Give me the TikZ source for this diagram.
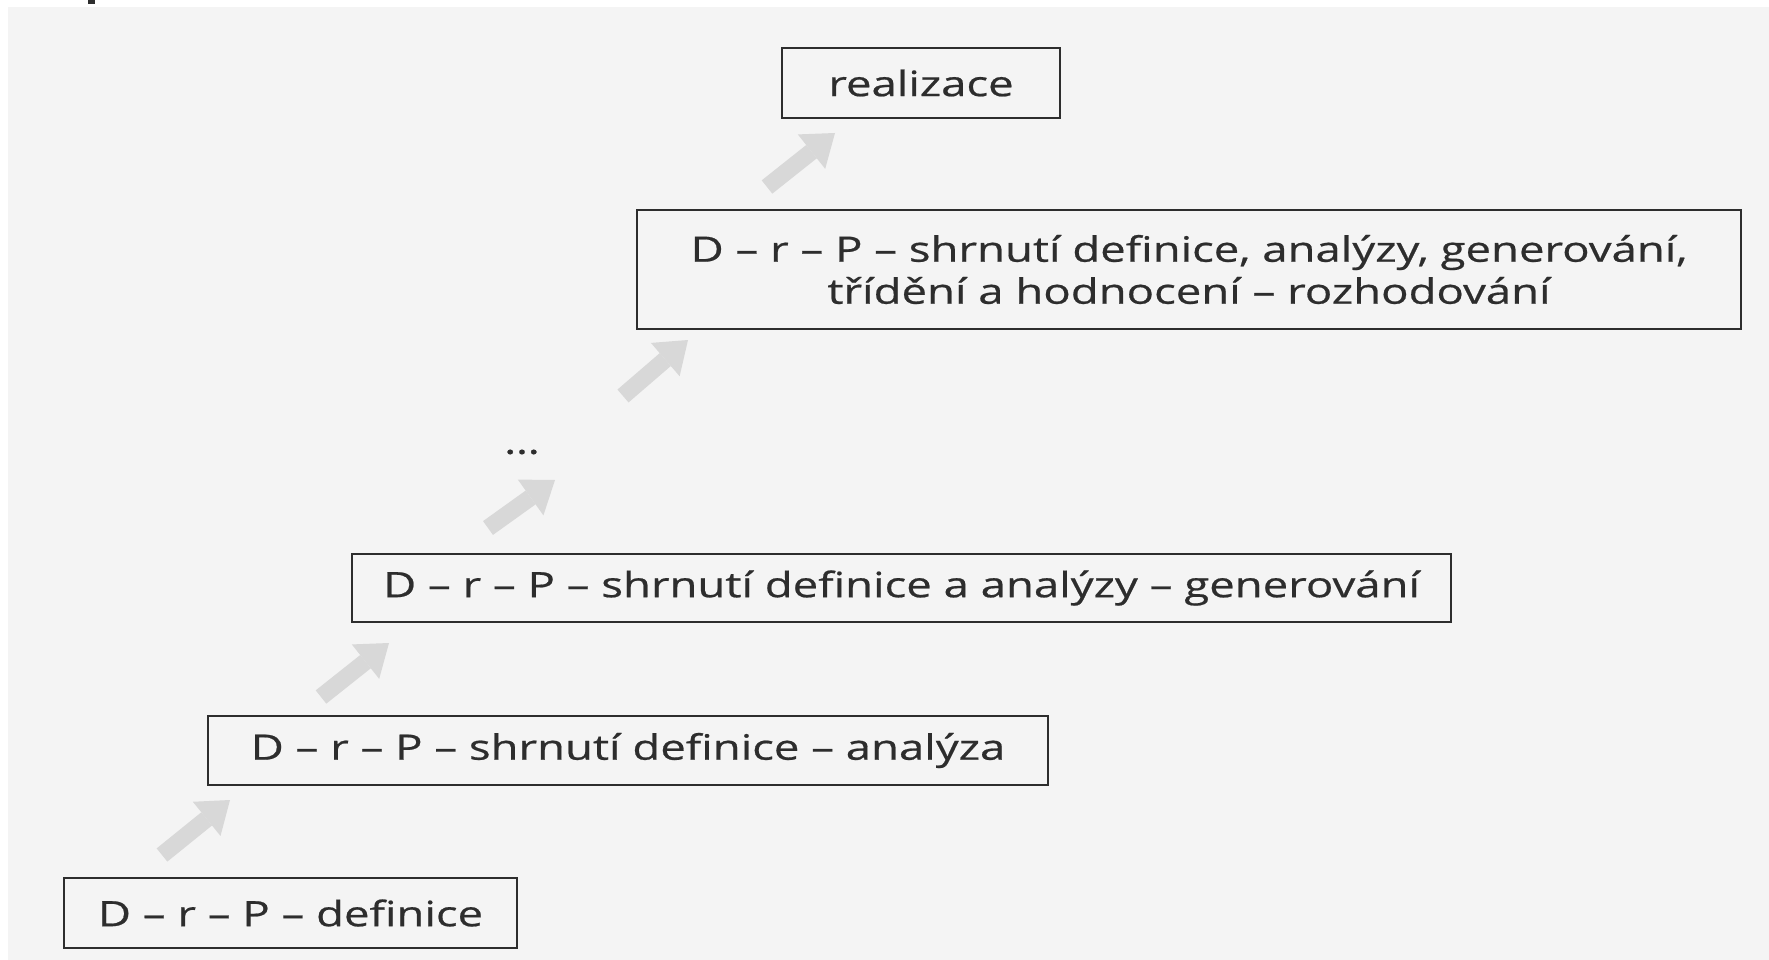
\documentclass[tikz,border=0pt]{standalone}
\usepackage{fontspec}
\setmainfont{Open Sans}[FakeStretch=1.3, FakeBold=0.6]
\usetikzlibrary{arrows.meta}
\definecolor{paper}{RGB}{244,244,244}
\definecolor{arrowgray}{RGB}{216,216,216}
\definecolor{ink}{RGB}{45,45,45}

\begin{document}
\begin{tikzpicture}[x=1pt, y=-1pt,
  every node/.style = {shape=rectangle, draw=ink, line width=2.5pt,
    text=ink, align=center, inner sep=0pt,
    font=\fontsize{35}{42}\selectfont},
  up/.style = {draw=arrowgray, line width=17pt,
    -{Triangle[width=44pt, length=30pt, line width=0pt]}}]

  \useasboundingbox (0,0) rectangle (1769,960);
  \fill[paper] (8,7) rectangle (1769,960);
  \fill[ink] (88,0) rectangle (95,4);

  \node[minimum width=278pt, minimum height=70pt] (real) at (921,83) {realizace};
  \node[minimum width=1104pt, minimum height=119pt] (summ) at (1189,269.5)
    {D – r – P – shrnutí definice, analýzy, generování,\\
     třídění a hodnocení – rozhodování};
  \node[draw=none] (dots) at (522,452) {\dots};
  \node[minimum width=1099pt, minimum height=68pt] (gen) at (901.5,588)
    {D – r – P – shrnutí definice a analýzy – generování};
  \node[minimum width=840pt, minimum height=69pt] (anal) at (628,750.5)
    {D – r – P – shrnutí definice – analýza};
  \node[minimum width=453pt, minimum height=70pt] (defi) at (290.5,913)
    {D – r – P – definice};

  % arrows going up
  \coordinate (t1) at (162,855);  \coordinate (h1) at (230,800);
  \coordinate (t2) at (321,697);  \coordinate (h2) at (389,643);
  \coordinate (t3) at (488,528);  \coordinate (h3) at (555,480);
  \coordinate (t4) at (623,396);  \coordinate (h4) at (688,340);
  \coordinate (t5) at (767,187);  \coordinate (h5) at (835,133);
  \foreach \i in {1,...,5}
    \draw[up] (t\i) -- (h\i);
\end{tikzpicture}
\end{document}
